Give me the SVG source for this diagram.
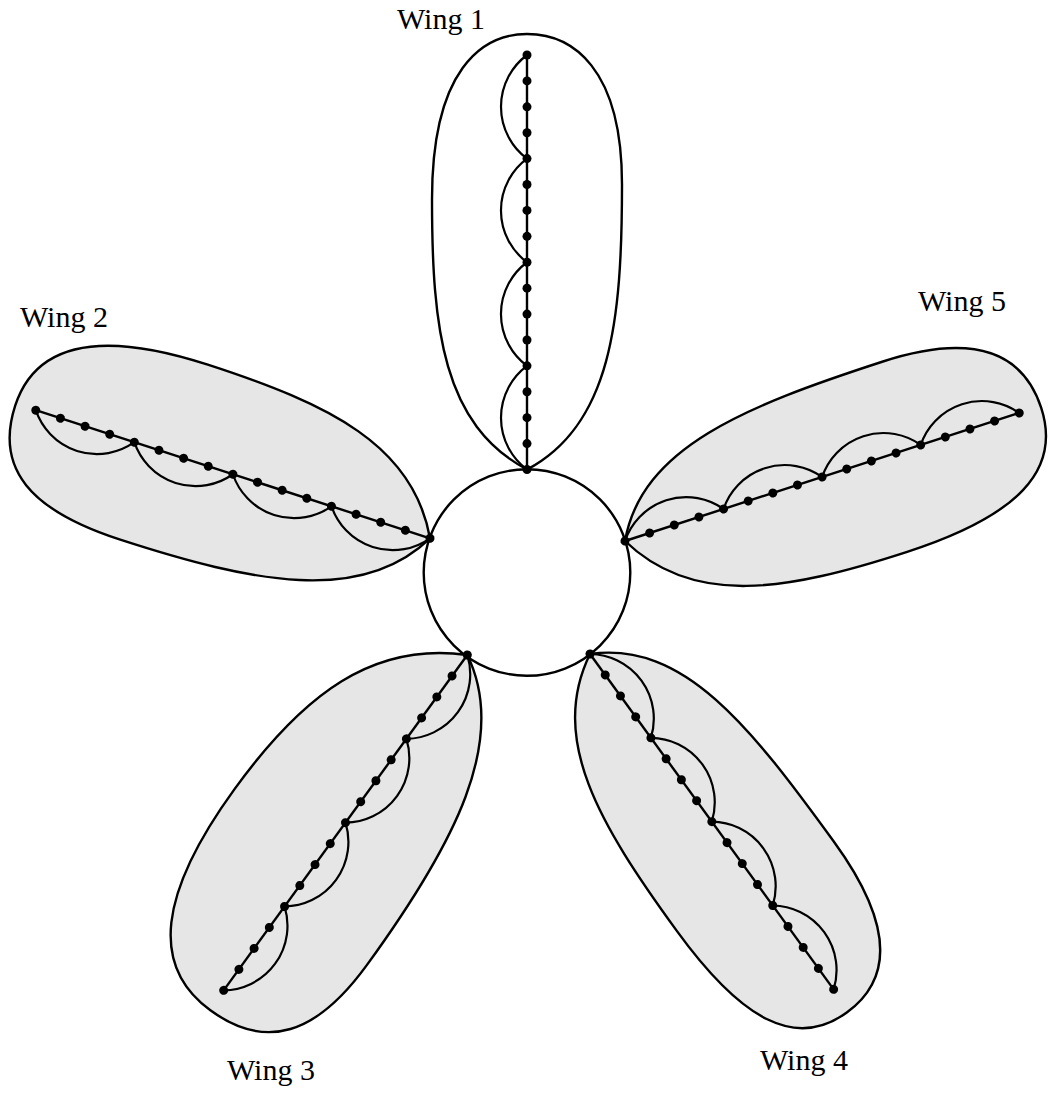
<svg xmlns="http://www.w3.org/2000/svg" xmlns:xlink="http://www.w3.org/1999/xlink" width="1051" height="1095" viewBox="0 0 1051 1095">
  <style>
    .outline { stroke: #000; stroke-width: 2.4; stroke-linejoin: round; }
    .shaded { fill: #e6e6e6; }
    .plain { fill: #fff; }
    .hub { fill: #fff; stroke: #000; stroke-width: 2.4; }
    .spine { stroke: #000; stroke-width: 2.4; fill: none; }
    .arc { stroke: #000; stroke-width: 2.2; fill: none; }
    .bead { fill: #000; }
    .label { font-family: "Liberation Serif", "Times New Roman", serif; font-size: 30px; fill: #000; }
  </style>
  <defs>
    <!-- spine of a wing along local +x, length 414.5; scallops bulge toward local -y -->
    <g id="spineShape">
      <line class="spine" x1="0" y1="0" x2="414.5" y2="0"/>
      <path class="arc" d="M0,0 A64.6,64.6 0 0 1 103.6,0 A64.6,64.6 0 0 1 207.25,0 A64.6,64.6 0 0 1 310.9,0 A64.6,64.6 0 0 1 414.5,0"/>
    </g>
    <!-- 17 evenly spaced vertices on a spine -->
    <g id="beadRow" class="bead">
      <circle cx="0" cy="0" r="4.5"/>
      <circle cx="25.91" cy="0" r="4.5"/>
      <circle cx="51.81" cy="0" r="4.5"/>
      <circle cx="77.72" cy="0" r="4.5"/>
      <circle cx="103.63" cy="0" r="4.5"/>
      <circle cx="129.53" cy="0" r="4.5"/>
      <circle cx="155.44" cy="0" r="4.5"/>
      <circle cx="181.34" cy="0" r="4.5"/>
      <circle cx="207.25" cy="0" r="4.5"/>
      <circle cx="233.16" cy="0" r="4.5"/>
      <circle cx="259.06" cy="0" r="4.5"/>
      <circle cx="284.97" cy="0" r="4.5"/>
      <circle cx="310.88" cy="0" r="4.5"/>
      <circle cx="336.78" cy="0" r="4.5"/>
      <circle cx="362.69" cy="0" r="4.5"/>
      <circle cx="388.59" cy="0" r="4.5"/>
      <circle cx="414.5" cy="0" r="4.5"/>
    </g>
  </defs>

  <!-- central hub -->
  <g id="hub">
    <circle class="hub" cx="527" cy="572.5" r="103.3"/>
  </g>

  <!-- wing envelopes, each in its own frame: base at origin, axis along +x -->
  <g id="wing1" transform="translate(527,469.5) rotate(-90)">
    <path class="outline plain" d="M0,0 C44.6,-83.9 140.4,-95 270,-95 C400,-95 435.5,-45 435.5,0 C435.5,45 402,95 285,95 C148.2,95 44.6,83.9 0,0 Z"/>
  </g>
  <g id="wing2" transform="translate(430,538.3) rotate(198)">
    <path class="outline shaded" d="M0,0 C44.6,-83.9 153.4,-97 295,-97 C389.1,-97 435.5,-68 435.5,-2 C435.5,63.6 379.2,96.5 265,96.5 C137.8,96.5 44.6,83.9 0,0 Z"/>
  </g>
  <g id="wing3" transform="translate(467.3,655) rotate(126)">
    <path class="outline shaded" d="M0,0 C44.6,-83.9 161.2,-101 310,-101 C396.1,-101 438.5,-69.7 438.5,-1 C438.5,73.5 374.6,109.5 245,109.5 C127.4,109.5 44.6,83.9 0,0 Z"/>
  </g>
  <g id="wing4" transform="translate(590,654) rotate(54)">
    <path class="outline shaded" d="M0,0 C44.6,-83.9 153.4,-87 295,-87 C392.8,-87 441,-56.2 441,3 C441,65.9 386.2,92.5 275,92.5 C143,92.5 44.6,83.9 0,0 Z"/>
  </g>
  <g id="wing5" transform="translate(625,541) rotate(-18)">
    <path class="outline shaded" d="M0,0 C44.6,-83.9 156,-91 300,-91 C391.8,-91 437,-59.9 437,2 C437,68.3 380.2,97.5 265,97.5 C137.8,97.5 44.6,83.9 0,0 Z"/>
  </g>

  <!-- spines and scallop arcs -->
  <g id="connectors">
    <use xlink:href="#spineShape" transform="translate(527,469.5) rotate(-90)"/>
    <use xlink:href="#spineShape" transform="translate(430,538.3) rotate(198)"/>
    <use xlink:href="#spineShape" transform="translate(467.3,655) rotate(126)"/>
    <use xlink:href="#spineShape" transform="translate(590,654) rotate(54)"/>
    <use xlink:href="#spineShape" transform="translate(625,541) rotate(-18)"/>
  </g>

  <!-- vertices -->
  <g id="vertices">
    <use xlink:href="#beadRow" transform="translate(527,469.5) rotate(-90)"/>
    <use xlink:href="#beadRow" transform="translate(430,538.3) rotate(198)"/>
    <use xlink:href="#beadRow" transform="translate(467.3,655) rotate(126)"/>
    <use xlink:href="#beadRow" transform="translate(590,654) rotate(54)"/>
    <use xlink:href="#beadRow" transform="translate(625,541) rotate(-18)"/>
  </g>

  <!-- labels -->
  <g id="labels">
    <text class="label" x="397" y="29">Wing 1</text>
    <text class="label" x="20" y="326.5">Wing 2</text>
    <text class="label" x="227" y="1079.5">Wing 3</text>
    <text class="label" x="760" y="1070">Wing 4</text>
    <text class="label" x="918" y="310.5">Wing 5</text>
  </g>
</svg>
